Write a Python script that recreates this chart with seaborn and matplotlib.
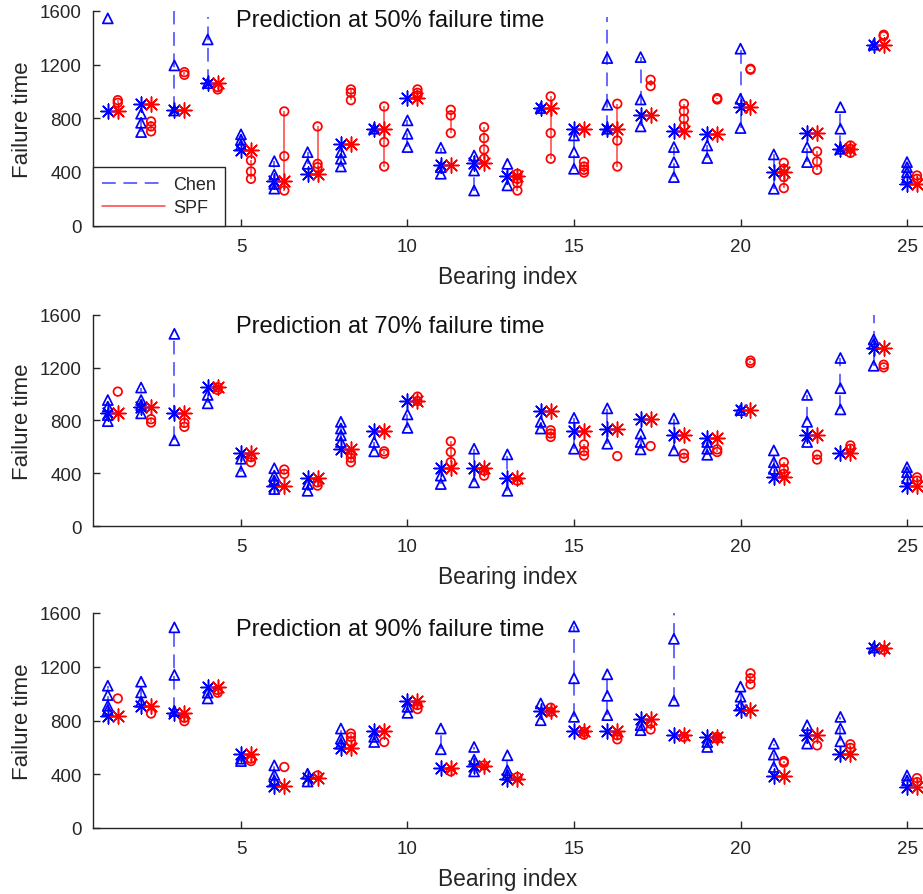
import numpy as np
import pandas as pd
import matplotlib
matplotlib.use("Agg")
import matplotlib.pyplot as plt
import seaborn as sns
from matplotlib.lines import Line2D

# ---------------- data ----------------
bearings = list(range(1, 26))
panel_titles = ["Prediction at 50% failure time",
                "Prediction at 70% failure time",
                "Prediction at 90% failure time"]
x_ticks = [5, 10, 15, 20, 25]
y_ticks = [0, 400, 800, 1200, 1600]

actual50 = [851, 908, 858, 1062, 560, 331, 386, 605, 722, 950, 455, 468, 368,
            876, 722, 722, 821, 702, 684, 883, 398, 692, 572, 1349, 311]
chen50 = [[1545], [834, 766, 697], [858, 1194, 1800], [1062, 1388],
          [680, 640, 600], [480, 380, 310, 275], [547, 460], [547, 498, 440],
          [722], [784, 684, 585], [580, 435, 386], [522, 410, 261],
          [460, 299], [876], [672, 547, 423], [722, 901, 1249],
          [1256, 940, 739], [585, 473, 361], [597, 503], [1319, 945, 727],
          [530, 274], [585, 473], [883, 722, 572], [1349],
          [473, 435, 398, 356]]
spf50 = [[915, 935], [776, 739, 702], [1144, 1124], [1032, 1015],
         [485, 403, 348], [851, 517, 261], [739, 460, 435], [1015, 990, 935],
         [888, 622, 440], [1015, 990, 970], [863, 821, 689],
         [734, 652, 567, 498], [386, 348, 316, 261], [963, 689, 498],
         [475, 440, 415, 395], [908, 634, 440], [1087, 1040],
         [908, 853, 796, 739], [950, 940], [1169, 1162],
         [468, 423, 361, 279], [552, 478, 415], [597, 572, 542],
         [1423, 1413], [373, 348]]

actual70 = [854, 905, 859, 1052, 555, 306, 362, 586, 719, 948, 438, 441, 362,
            871, 719, 734, 815, 693, 668, 879, 369, 688, 555, 1350, 306]
chen70 = [[955, 905, 841, 795], [1050, 955, 917, 854], [1457, 650], [994, 930],
          [510, 413], [438, 382, 344, 280], [318, 267], [790, 739, 688, 637],
          [637, 566], [846, 744], [382, 318], [586, 331], [543, 267],
          [790, 739], [820, 586], [892, 624], [701, 637, 581], [815, 573],
          [637, 586, 540], [879], [573, 484, 433], [994, 790, 637],
          [1274, 1045, 884], [1414, 1381, 1215, 1800], [446, 408, 362]]
spf70 = [[1019], [810, 785], [782, 752], [1052, 1032], [522, 484], [428, 395],
         [331, 306], [548, 517, 484], [566, 548], [981, 948], [642, 561, 484],
         [420, 382], [344], [726, 701, 675], [619, 568, 535], [530], [606],
         [548, 517], [581, 561], [1254, 1236], [484, 433, 395], [540, 504],
         [611, 586], [1223, 1203], [369, 344]]

actual90 = [835, 910, 857, 1052, 548, 316, 371, 598, 720, 944, 446, 459, 361,
            870, 720, 720, 810, 695, 678, 877, 384, 690, 553, 1343, 304]
chen90 = [[1059, 989, 910, 877], [1089, 1009, 939], [1493, 1139, 870],
          [1007, 964], [516, 498], [466, 396, 354], [404, 346],
          [740, 665, 628], [678, 640], [902, 857], [740, 586],
          [603, 508, 421], [541, 429, 396], [927, 802], [1500, 1114, 827],
          [1144, 984, 840], [765, 728], [1408, 947, 1800], [640, 603],
          [1052, 977, 915], [628, 546, 454], [765, 628], [827, 740, 645],
          [1343], [391, 354]]
spf90 = [[964], [852], [820, 795], [1027, 1007], [516, 498], [454], [391],
         [703, 678, 645], [640], [915, 885], [421], [466], [379], [895, 865],
         [715, 695], [690, 660], [777, 733], [678], [678, 665],
         [1151, 1114, 1069], [498, 486], [615], [623, 596], [1326], [371, 341]]

# explicit dashed-range ends where the Chen range runs past its markers
chen_range_override = [{4: (1062, 1555), 16: (722, 1555)}, {}, {}]

panels = [(actual50, chen50, spf50), (actual70, chen70, spf70),
          (actual90, chen90, spf90)]

# ---------------- style ----------------
sns.set_style("ticks")
plt.rcParams["font.family"] = ["Liberation Sans", "DejaVu Sans"]
plt.rcParams["xtick.direction"] = "in"
plt.rcParams["ytick.direction"] = "in"

BLUE = "#0000ff"
RED = "#ff0000"
AX_COL = "#262626"
SPF_SHIFT = 0.3
ASTER = (8, 2, 0)

fig = plt.figure(figsize=(9.23, 8.95), dpi=100)
W, H = 923.0, 895.0
boxes = [(93, 12, 226.5), (93, 316, 527), (93, 614, 829)]
title_y = [1535, 1515, 1480]

for k, ((act, chen, spf), (lpx, top, bot)) in enumerate(zip(panels, boxes)):
    ax = fig.add_axes([lpx / W, 1 - bot / H, (W - lpx) / W, (bot - top) / H])

    rows = []
    for b, a, cl, sl in zip(bearings, act, chen, spf):
        for v in cl:
            rows.append((b, v, "chen"))
        for v in sl:
            rows.append((b + SPF_SHIFT, v, "spf"))
        rows.append((b, a, "act_chen"))
        rows.append((b + SPF_SHIFT, a, "act_spf"))
    df = pd.DataFrame(rows, columns=["x", "y", "kind"])

    # range lines
    for b, cl, sl in zip(bearings, chen, spf):
        lo, hi = chen_range_override[k].get(b, (min(cl), max(cl)))
        if hi > lo:
            ax.vlines(b, lo, hi, colors=BLUE, linestyles=(0, (9, 5)),
                      linewidth=1.1, alpha=0.75, zorder=2)
        if max(sl) > min(sl):
            ax.vlines(b + SPF_SHIFT, min(sl), max(sl), colors=RED,
                      linewidth=1.1, alpha=0.75, zorder=2)

    d = df[df.kind == "chen"]
    sns.scatterplot(data=d, x="x", y="y", marker="^", s=52, facecolor="none",
                    edgecolor=BLUE, linewidth=1.25, ax=ax, zorder=3)
    d = df[df.kind == "spf"]
    sns.scatterplot(data=d, x="x", y="y", marker="o", s=38, facecolor="none",
                    edgecolor=RED, linewidth=1.25, ax=ax, zorder=3)
    d = df[df.kind == "act_chen"]
    sns.scatterplot(data=d, x="x", y="y", marker=ASTER, s=115, color=BLUE,
                    linewidth=1.1, ax=ax, zorder=4)
    d = df[df.kind == "act_spf"]
    sns.scatterplot(data=d, x="x", y="y", marker=ASTER, s=115, color=RED,
                    linewidth=1.1, ax=ax, zorder=4)

    ax.set_xlim(0.556, 25.48)
    ax.set_ylim(0, 1600)
    ax.set_xticks(x_ticks)
    ax.set_yticks(y_ticks)
    ax.set_xticklabels([str(t) for t in x_ticks])
    ax.set_yticklabels([str(t) for t in y_ticks])
    ax.tick_params(axis="both", direction="in", length=5, width=1,
                   color=AX_COL, labelcolor=AX_COL, labelsize=13.5, pad=8)
    ax.tick_params(axis="x", pad=9)
    for side in ["top", "right"]:
        ax.spines[side].set_visible(False)
    for side in ["left", "bottom"]:
        ax.spines[side].set_color(AX_COL)
        ax.spines[side].set_linewidth(1.0)
    ax.set_xlabel("Bearing index", fontsize=16.4, color=AX_COL, labelpad=7)
    ax.set_ylabel("Failure time", fontsize=16, color=AX_COL, labelpad=5)
    ax.text(4.85, title_y[k], panel_titles[k], fontsize=17, color="#111111",
            ha="left", va="center")

    if k == 0:
        handles = [Line2D([], [], color=BLUE, ls=(0, (9, 5)), lw=1.1, alpha=0.75),
                   Line2D([], [], color=RED, ls="-", lw=1.1, alpha=0.75)]
        leg = ax.legend(handles, ["Chen", "SPF"], loc="lower left",
                        bbox_to_anchor=(0, 0), borderaxespad=0, fontsize=13,
                        frameon=True, fancybox=False, handlelength=3.5,
                        handletextpad=0.45, borderpad=0.5, labelspacing=0.35)
        leg.get_frame().set_edgecolor("#262626")
        leg.get_frame().set_linewidth(1.0)
        leg.get_frame().set_alpha(1.0)
    else:
        if ax.get_legend() is not None:
            ax.get_legend().remove()

fig.savefig("out.png", dpi=100)
